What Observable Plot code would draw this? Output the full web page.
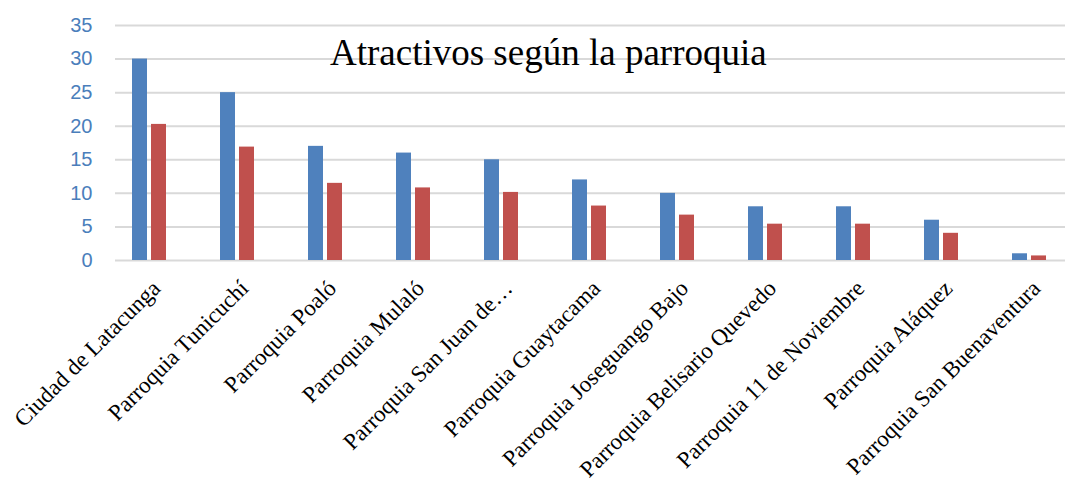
<!DOCTYPE html>
<html><head><meta charset="utf-8">
<script src="https://cdn.jsdelivr.net/npm/d3@7"></script>
<script src="https://cdn.jsdelivr.net/npm/@observablehq/plot@0.6"></script>
<style>
body{margin:0;background:#fff}
#chart{position:relative;width:1070px;height:483px;overflow:hidden}
#title{position:absolute;left:330px;top:34px;font-family:"Liberation Serif","Times New Roman",serif;font-size:37px;line-height:1;color:#000;white-space:nowrap}
</style>
</head><body>
<div id="chart"><div id="title"></div></div>
<script>
const title = "Atractivos según la parroquia";
const categories = [
  "Ciudad de Latacunga",
  "Parroquia Tunicuchí",
  "Parroquia Poaló",
  "Parroquia Mulaló",
  "Parroquia San Juan de…",
  "Parroquia Guaytacama",
  "Parroquia Joseguango Bajo",
  "Parroquia Belisario Quevedo",
  "Parroquia 11 de Noviembre",
  "Parroquia Aláquez",
  "Parroquia San Buenaventura"
];
const atractivos = [30, 25, 17, 16, 15, 12, 10, 8, 8, 6, 1];
const porcentaje = [20.27, 16.89, 11.49, 10.81, 10.14, 8.11, 6.76, 5.41, 5.41, 4.05, 0.68];
const yTicks = [0, 5, 10, 15, 20, 25, 30, 35];

const rowsA = categories.map((c, i) => ({cat: c, value: atractivos[i]}));
const rowsP = categories.map((c, i) => ({cat: c, value: porcentaje[i]}));

document.getElementById("title").textContent = title;

const chart = Plot.plot({
  width: 1070,
  height: 483,
  marginTop: 25,
  marginBottom: 223,
  marginLeft: 115,
  marginRight: 5,
  x: {type: "band", domain: categories, range: [105, 1073], padding: 0},
  y: {domain: [0, 35]},
  marks: [
    Plot.gridY(yTicks, {stroke: "#d9d9d9", strokeOpacity: 1, strokeWidth: 2}),
    Plot.barY(rowsA, {x: "cat", y: "value", fill: "#4F81BD", insetLeft: 27, insetRight: 46}),
    Plot.barY(rowsP, {x: "cat", y: "value", fill: "#C0504D", insetLeft: 46, insetRight: 27}),
    Plot.axisY({ticks: yTicks, tickSize: 0, tickPadding: 23, fontSize: 20, fontFamily: "Liberation Sans, Arial, sans-serif", color: "#4a7ebb", label: null}),
    Plot.axisX({tickRotate: -45, tickSize: 0, tickPadding: 24, dx: 7, fontSize: 23, fontFamily: "Liberation Serif, Times New Roman, serif", color: "#000", label: null})
  ]
});
document.getElementById("chart").appendChild(chart);
</script>
</body></html>
